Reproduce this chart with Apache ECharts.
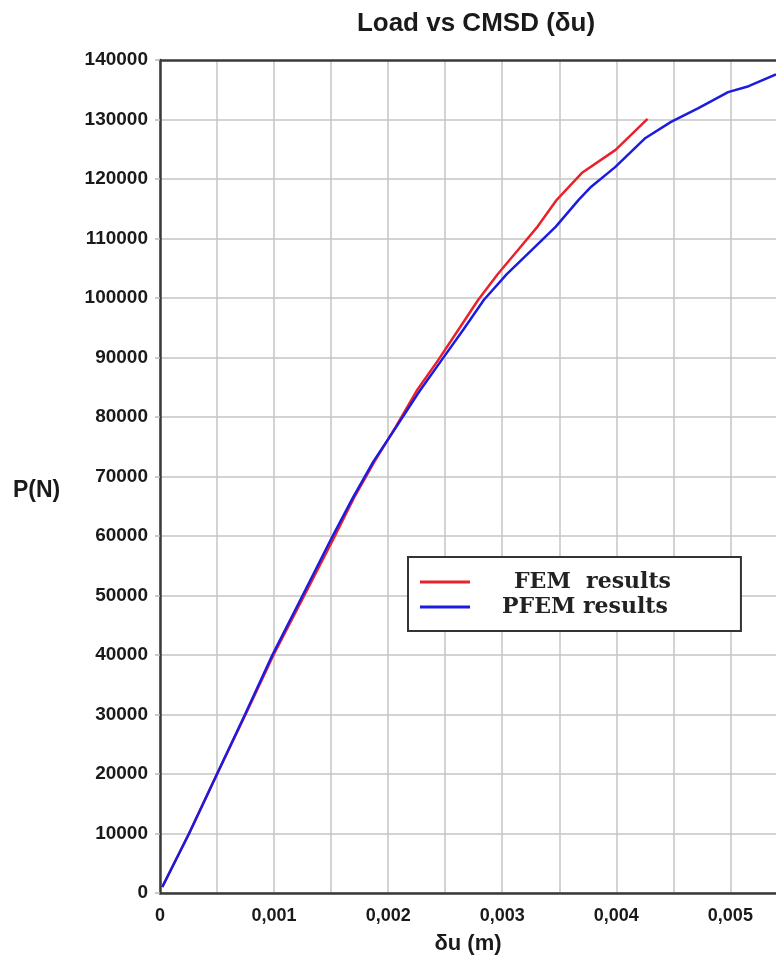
<!DOCTYPE html>
<html>
<head>
<meta charset="utf-8">
<script src="https://cdn.jsdelivr.net/npm/echarts@6/dist/echarts.min.js"></script>
<style>html,body{margin:0;padding:0;background:#fff;}#chart{width:776px;height:960px;}</style>
</head>
<body>
<div id="chart"></div>
<script>
// Data (x in metres, y in Newtons)
const titleText = 'Load vs CMSD (δu)';
const xAxisName = 'δu (m)';
const yAxisName = 'P(N)';
const seriesNames = ['FEM  results', 'PFEM results'];

const femX = [0.000020, 0.000255, 0.000500, 0.000750, 0.000995, 0.001265, 0.001520, 0.001700, 0.001880, 0.002065, 0.002250, 0.002440, 0.002620, 0.002790, 0.002960, 0.003140, 0.003310, 0.003478, 0.003697, 0.003994, 0.004274];
const femY = [1000, 10000, 20000, 30000, 40000, 50000, 59500, 66400, 72500, 78300, 84400, 89600, 94800, 99700, 104000, 108100, 112000, 116500, 121000, 124900, 130100];

const pfemX = [0.000020, 0.000255, 0.000500, 0.000745, 0.000985, 0.001250, 0.001500, 0.001690, 0.001870, 0.002070, 0.002270, 0.002470, 0.002660, 0.002840, 0.003040, 0.003260, 0.003470, 0.003670, 0.003780, 0.003990, 0.004256, 0.004480, 0.004720, 0.004980, 0.005160, 0.005400];
const pfemY = [1000, 10000, 20000, 30000, 40000, 50000, 59500, 66400, 72500, 78300, 84200, 89600, 94700, 99700, 104000, 108100, 112000, 116500, 118700, 122000, 126900, 129600, 131900, 134600, 135600, 137600];

const xMin = 0, xMax = 0.0054, xInterval = 0.0005;
const yMin = 0, yMax = 140000, yInterval = 10000;

const zip = (xs, ys) => xs.map((x, i) => [x, ys[i]]);

const chart = echarts.init(document.getElementById('chart'), null, {renderer: 'canvas'});
const sans = 'Liberation Sans, Arial, sans-serif';
const serif = 'DejaVu Serif, Liberation Serif, serif';
chart.setOption({
  animation: false,
  backgroundColor: '#ffffff',
  title: {
    text: titleText,
    left: 471,
    top: 6,
    textAlign: 'center',
    textStyle: {fontFamily: sans, fontWeight: 'bold', fontSize: 26, color: '#1a1a1a'}
  },
  grid: {left: 160, right: 0, top: 60, bottom: 67},
  xAxis: [{
    type: 'value',
    min: xMin, max: xMax, interval: xInterval,
    name: xAxisName,
    nameLocation: 'middle',
    nameGap: 40,
    nameTextStyle: {fontFamily: sans, fontWeight: 'bold', fontSize: 22, color: '#1a1a1a'},
    axisLine: {show: true, lineStyle: {color: '#3a3a3a', width: 2.5}},
    axisTick: {show: false},
    splitLine: {show: true, showMaxLine: false, lineStyle: {color: '#c4c4c4', width: 1.5}},
    axisLabel: {
      margin: 14,
      showMaxLabel: false,
      fontFamily: sans, fontWeight: 'bold', fontSize: 18, color: '#1a1a1a',
      formatter: function (v) {
        const k = Math.round(v * 10000);
        if (k % 10 !== 0) return '';
        if (k === 0) return '0';
        return v.toFixed(3).replace('.', ',');
      }
    }
  }, {
    type: 'value',
    position: 'top',
    min: xMin, max: xMax, interval: xInterval,
    axisLine: {show: true, lineStyle: {color: '#3a3a3a', width: 2.5}},
    axisTick: {show: false},
    axisLabel: {show: false},
    splitLine: {show: false}
  }],
  yAxis: {
    type: 'value',
    min: yMin, max: yMax, interval: yInterval,
    axisLine: {show: true, lineStyle: {color: '#3a3a3a', width: 2.5}},
    axisTick: {show: true, length: 5, lineStyle: {color: '#bbbbbb', width: 1.5}},
    splitLine: {show: true, showMaxLine: false, lineStyle: {color: '#c4c4c4', width: 1.5}},
    axisLabel: {
      margin: 12,
      fontFamily: sans, fontWeight: 'bold', fontSize: 19, color: '#1a1a1a',
      formatter: function (v) { return String(v); }
    }
  },
  legend: {
    orient: 'vertical',
    left: 408, top: 557,
    padding: [14, 70, 13, 12],
    borderColor: '#333333', borderWidth: 2, borderRadius: 0,
    backgroundColor: '#ffffff',
    itemWidth: 50, itemHeight: 3, itemGap: 3,
    icon: 'rect',
    selectedMode: false,
    textStyle: {fontFamily: serif, fontWeight: 'bold', fontSize: 22, color: '#222222', lineHeight: 22},
    data: [
      {name: seriesNames[0], textStyle: {padding: [0, 0, 0, 39]}},
      {name: seriesNames[1], textStyle: {padding: [0, 0, 0, 27]}}
    ]
  },
  graphic: [{
    type: 'text',
    left: 13, top: 479,
    style: {text: yAxisName, fontFamily: sans, fontWeight: 'bold', fontSize: 23, fill: '#1a1a1a'}
  }],
  series: [
    {
      name: seriesNames[0], type: 'line', data: zip(femX, femY),
      showSymbol: false, smooth: false, z: 3,
      itemStyle: {color: '#e8222c'},
      lineStyle: {color: '#e8222c', width: 2.5}
    },
    {
      name: seriesNames[1], type: 'line', data: zip(pfemX, pfemY),
      showSymbol: false, smooth: false, z: 4,
      itemStyle: {color: '#1c1ce0'},
      lineStyle: {color: '#1c1ce0', width: 2.5}
    }
  ]
});
</script>
</body>
</html>
